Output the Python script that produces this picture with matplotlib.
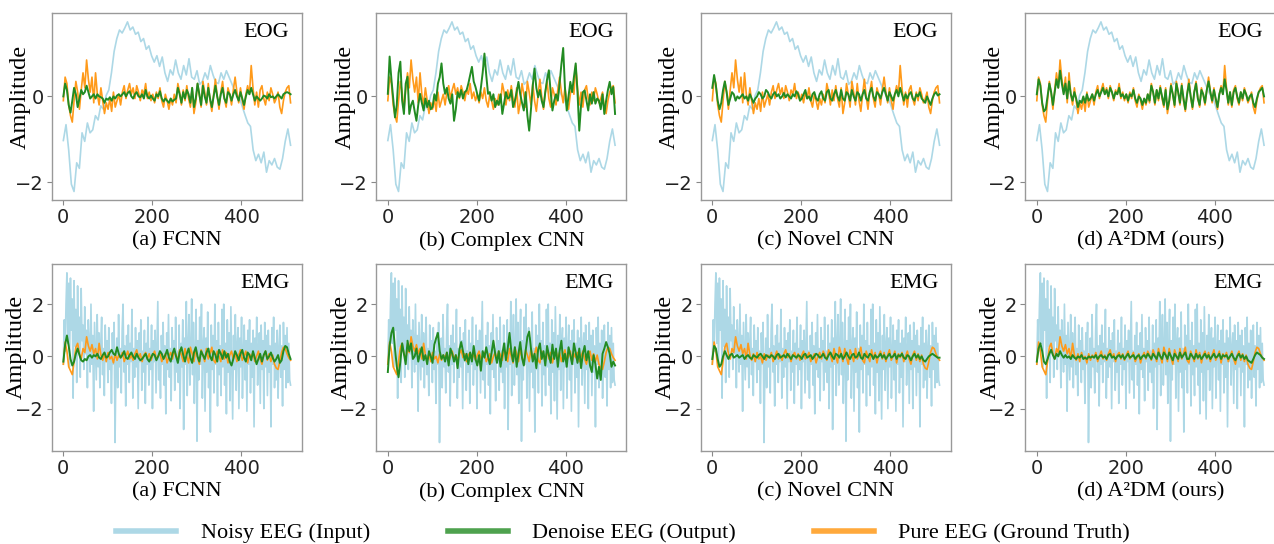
import numpy as np
import matplotlib
matplotlib.use('Agg')
import matplotlib.pyplot as plt
from matplotlib.lines import Line2D

# panel names
titles = ['(a) FCNN', '(b) Complex CNN', '(c) Novel CNN', '(d) A\u00b2DM (ours)']
row_tags = ['EOG', 'EMG']

# noisy EEG, EOG artefact (input), 86 samples over 0..511
eog_noisy = [-1.03, -0.66, -1.25, -2.05, -2.22, -1.55, -1.68, -0.85, -1.05, -0.62, -0.85, -0.78, -0.45, -0.55, -0.22, -0.30,
             0.02, 0.15, 0.55, 1.05, 1.35, 1.55, 1.48, 1.60, 1.74, 1.55, 1.62, 1.45, 1.50, 1.28, 1.35, 1.10,
             1.18, 0.95, 0.80, 0.95, 0.70, 0.92, 0.55, 0.35, 0.62, 0.50, 0.85, 0.55, 0.40, 0.72, 0.50, 0.88,
             0.45, 0.40, 0.60, 0.28, 0.35, 0.55, 0.40, 0.72, 0.50, 0.33, 0.30, 0.55, 0.40, 0.60, 0.45, 0.30,
             0.15, 0.02, -0.05, -0.25, -0.44, -0.62, -0.70, -1.25, -1.50, -1.35, -1.55, -1.30, -1.77, -1.50, -1.60, -1.45,
             -1.65, -1.70, -1.45, -1.05, -0.76, -1.14]

# pure EEG (ground truth), EOG row, 128 samples
eog_pure = [-0.10, 0.45, 0.30, -0.20, -0.45, -0.60, -0.10, 0.35, 0.10, -0.30, 0.15, 0.55, 0.20, 0.85, 0.40, 0.10,
            0.45, -0.15, 0.55, 0.05, -0.20, 0.20, -0.10, -0.40, -0.15, -0.30, -0.05, -0.35, 0.10, -0.25, -0.10, 0.05,
            -0.20, 0.10, 0.25, -0.05, 0.15, 0.30, 0.05, 0.20, -0.05, 0.25, 0.10, -0.10, 0.15, 0.05, 0.30, -0.05,
            0.10, -0.10, 0.05, -0.15, 0.10, -0.05, 0.20, -0.10, -0.25, 0.05, -0.10, -0.30, -0.05, -0.20, 0.05, -0.15,
            0.30, 0.10, -0.20, 0.15, -0.10, 0.25, -0.05, -0.25, 0.20, -0.40, -0.15, 0.30, 0.05, -0.25, 0.35, 0.10,
            -0.20, 0.30, -0.10, -0.35, 0.05, 0.40, 0.00, -0.30, 0.10, 0.35, -0.05, -0.25, 0.20, 0.05, -0.20, 0.15,
            0.45, 0.10, -0.15, 0.20, -0.10, -0.30, 0.05, 0.25, 0.05, 0.72, 0.20, -0.20, 0.10, -0.25, 0.15, 0.25,
            -0.05, -0.20, 0.10, -0.10, 0.20, 0.05, -0.15, -0.05, 0.10, -0.25, -0.40, -0.10, 0.10, 0.20, 0.25, -0.15]

# denoised outputs, EOG row
eog_fcnn = [0.00, 0.30, 0.15, -0.20, -0.38, -0.10, 0.20, 0.05, -0.25, -0.05, 0.15, 0.05, 0.10, 0.25, 0.10, -0.05,
            0.00, 0.05, -0.05, 0.05, 0.00, -0.02, -0.05, -0.15, -0.05, -0.08, -0.02, -0.10, 0.00, -0.05, 0.02, 0.05,
            0.00, 0.05, 0.10, 0.00, 0.08, 0.12, 0.00, -0.05, 0.05, 0.10, 0.00, -0.02, 0.05, -0.05, 0.15, 0.00,
            -0.05, 0.02, -0.05, -0.10, 0.05, 0.00, 0.12, -0.05, -0.12, -0.05, -0.10, -0.15, -0.05, -0.12, -0.08, -0.05,
            0.20, 0.05, -0.15, 0.10, -0.05, 0.15, 0.05, -0.15, 0.20, -0.25, -0.05, 0.30, 0.05, -0.20, 0.25, 0.00,
            -0.15, 0.20, -0.05, -0.25, 0.00, 0.25, 0.00, -0.20, 0.05, 0.20, -0.05, -0.15, 0.10, 0.05, -0.10, 0.05,
            0.15, 0.00, -0.10, 0.10, -0.05, -0.20, 0.00, 0.15, 0.05, 0.20, 0.05, -0.10, 0.00, -0.05, -0.10, -0.05,
            0.02, 0.00, -0.05, 0.05, -0.02, 0.00, -0.05, 0.00, 0.05, 0.00, -0.05, 0.05, 0.08, 0.10, 0.08, 0.05]
eog_complex = [0.06, 0.93, 0.40, -0.05, -0.49, -0.20, 0.55, 0.81, -0.10, -0.41, 0.30, 0.46, -0.41, -0.20, -0.10, -0.35,
               -0.57, -0.20, 0.06, -0.15, -0.33, -0.05, -0.25, -0.10, -0.30, -0.25, 0.05, -0.10, 0.30, 0.45, 0.77, 0.30,
               0.06, 0.20, -0.05, -0.17, 0.05, -0.57, -0.30, 0.10, -0.02, 0.15, -0.05, 0.10, 0.14, 0.30, 0.50, 0.69,
               0.35, 0.22, 0.05, -0.10, 0.20, 0.55, 1.00, 0.50, 0.06, 0.10, -0.10, 0.05, -0.25, -0.10, -0.20, 0.05,
               -0.41, -0.15, 0.10, -0.05, -0.02, 0.15, -0.25, -0.10, 0.10, 0.34, 0.05, -0.15, -0.33, 0.10, -0.45, -0.80,
               -0.30, 0.25, 0.65, 0.20, -0.02, 0.15, -0.10, -0.25, 0.10, 0.40, 0.61, 0.10, -0.33, -0.10, 0.05, -0.10,
               0.30, 0.75, 1.13, 0.20, -0.33, 0.00, 0.34, 0.10, 0.45, 0.77, 0.10, -0.80, -0.20, 0.10, 0.14, -0.10,
               -0.33, 0.05, -0.17, 0.10, -0.17, -0.05, -0.10, -0.30, 0.05, -0.41, -0.10, 0.15, 0.34, 0.05, 0.22, -0.41]
eog_novel = [0.20, 0.50, 0.25, -0.10, -0.30, -0.15, 0.15, 0.35, 0.10, -0.20, -0.05, 0.10, 0.05, -0.10, 0.00, -0.05,
             0.00, 0.05, -0.05, 0.00, -0.10, 0.05, -0.05, -0.15, -0.05, 0.00, 0.10, 0.05, -0.05, 0.00, 0.15, 0.10,
             0.00, -0.05, 0.05, 0.10, 0.00, 0.05, -0.05, 0.00, 0.08, -0.02, 0.05, 0.00, -0.05, 0.05, 0.00, 0.12,
             0.05, -0.10, -0.05, 0.05, 0.15, -0.05, 0.00, -0.10, 0.05, 0.10, -0.05, -0.10, 0.05, 0.12, -0.05, -0.10,
             0.10, 0.15, -0.05, -0.10, 0.05, 0.15, 0.00, -0.10, 0.15, -0.05, -0.10, 0.10, 0.05, -0.10, 0.15, 0.00,
             -0.10, 0.10, 0.05, -0.10, 0.05, 0.15, -0.05, -0.10, 0.10, 0.20, 0.00, -0.10, 0.10, 0.05, -0.05, 0.10,
             0.20, 0.05, -0.10, 0.10, 0.00, -0.10, 0.05, 0.15, 0.00, 0.20, 0.05, -0.10, 0.05, -0.05, 0.05, 0.10,
             -0.05, -0.10, 0.05, 0.00, 0.10, -0.05, -0.10, -0.15, 0.00, -0.10, -0.20, -0.05, 0.05, 0.10, 0.02, 0.05]
eog_a2dm = [0.05, 0.40, 0.25, -0.15, -0.35, -0.30, 0.00, 0.30, 0.10, -0.20, 0.10, 0.40, 0.20, 0.60, 0.30, 0.05,
            0.30, -0.05, 0.35, 0.05, -0.10, 0.10, -0.05, -0.25, -0.10, -0.15, 0.00, -0.15, 0.05, -0.10, -0.05, 0.05,
            -0.10, 0.05, 0.15, 0.00, 0.10, 0.20, 0.05, 0.15, 0.00, 0.20, 0.10, -0.05, 0.10, 0.05, 0.20, 0.00,
            0.05, -0.05, 0.05, -0.10, 0.05, 0.00, 0.15, -0.05, -0.15, 0.00, -0.05, -0.20, -0.05, -0.15, 0.05, -0.10,
            0.25, 0.10, -0.15, 0.15, -0.05, 0.20, 0.00, -0.20, 0.15, -0.30, -0.10, 0.25, 0.05, -0.20, 0.30, 0.10,
            -0.15, 0.25, -0.05, -0.30, 0.05, 0.30, 0.00, -0.25, 0.10, 0.30, -0.05, -0.20, 0.15, 0.05, -0.15, 0.15,
            0.35, 0.10, -0.10, 0.15, -0.05, -0.25, 0.05, 0.20, 0.05, 0.40, 0.15, -0.15, 0.10, -0.20, 0.10, 0.20,
            0.00, -0.15, 0.10, -0.05, 0.15, 0.05, -0.10, 0.00, 0.05, -0.15, -0.25, -0.05, 0.10, 0.15, 0.20, 0.00]

# noisy EEG, EMG artefact (input), 256 samples
emg_noisy = [-0.30, 1.40, 0.20, 2.00, 3.20, 0.50, 2.80, -0.40, 3.00, 1.00, 2.20, -1.60, 2.90, 0.40, 1.80, -1.00,
             2.70, 0.20, 1.50, -0.80, 2.60, 0.60, 1.20, -0.50, 1.90, 0.10, 1.00, -1.20, 1.40, 0.50, -0.60, 2.00,
             -0.30, 0.80, -2.10, 1.30, 0.20, -0.90, 1.60, -0.40, 0.90, -1.20, 0.50, 1.50, -0.70, 0.30, -1.50, 1.20,
             -0.20, 0.60, -1.00, 1.10, -0.50, 0.20, -1.80, 0.90, -0.30, 1.30, -3.30, -0.50, 0.70, -1.20, 1.60, -0.40,
             0.30, -1.40, 1.00, 2.00, -0.60, 0.40, -1.90, 0.80, -0.30, 1.20, -1.00, 0.50, -0.20, 1.80, -1.60, 0.30,
             -0.80, 1.10, -0.40, 0.60, -2.00, 0.90, -0.20, 1.40, -1.30, 0.20, -0.60, 1.00, -1.80, 0.50, -0.30, 1.50,
             -1.10, 0.30, -0.50, 1.20, -2.00, 0.60, -0.20, 1.00, -1.40, 0.40, 2.10, -0.90, 0.20, -1.60, 0.80, -0.30,
             1.30, -1.10, 0.40, -2.20, 0.90, -0.50, 1.60, -0.80, 0.30, -1.70, 1.10, -0.20, 0.60, -1.30, 1.50, -0.60,
             0.20, -1.00, 1.20, -2.00, 0.50, -0.40, 1.40, -2.80, 0.70, -0.30, 2.10, -1.50, 0.40, 1.60, -1.10, 0.30,
             2.20, -0.70, 1.30, -1.80, 0.20, 1.80, -3.25, 0.60, -0.90, 1.50, -0.30, 2.00, -1.60, 0.40, 1.10, -2.10,
             0.70, -0.60, 1.70, -1.20, 0.30, -2.90, 1.20, -0.50, 0.80, -1.40, 2.00, -0.30, 0.60, -1.90, 1.30, -0.70,
             0.40, -1.50, 1.80, -0.40, 2.00, -1.10, 0.50, -2.20, 1.40, -0.60, 0.90, -1.70, 1.90, -0.20, -2.40, 0.80,
             -0.50, 1.60, -1.30, 0.40, 1.10, -2.00, 0.70, -0.40, 1.50, -1.60, 0.20, 1.20, -0.90, 0.60, -2.10, 1.00,
             -0.30, 1.40, -1.40, 0.50, -0.80, 1.00, -2.70, 0.70, -0.20, 1.50, -1.10, 0.30, 0.90, -1.80, 1.20, -0.50,
             0.60, -2.00, 1.30, -0.40, 0.80, -1.50, 1.00, -0.60, 0.40, -2.70, 1.10, -0.30, 1.50, -1.20, 0.50, -0.90,
             1.00, -1.60, 0.30, 1.20, -0.80, 0.40, -1.90, 1.30, -0.50, 0.80, -1.20, 1.10, -1.00, 0.50, -0.90, -1.10]

emg_pure = [-0.30, 0.55, 0.20, -0.40, -0.55, -0.70, -0.20, 0.35, 0.50, 0.10, -0.10, 0.30, 0.15, 0.75, 0.40, 0.20,
            0.45, 0.10, 0.30, -0.10, 0.50, 0.05, -0.15, 0.10, -0.20, 0.15, -0.10, 0.00, -0.25, 0.10, -0.15, 0.05,
            -0.05, 0.15, -0.20, 0.00, 0.20, -0.10, 0.05, -0.15, 0.10, 0.25, -0.05, 0.10, -0.20, 0.05, 0.15, -0.10,
            0.10, -0.15, 0.05, 0.20, -0.10, 0.00, 0.15, -0.20, -0.05, 0.10, -0.25, 0.00, 0.15, -0.10, 0.20, 0.05,
            -0.15, 0.25, 0.05, -0.20, 0.30, 0.00, -0.25, 0.35, 0.10, -0.20, 0.30, -0.05, -0.30, 0.25, 0.05, -0.20,
            0.30, -0.10, 0.10, 0.35, -0.15, -0.25, 0.20, 0.00, -0.20, 0.25, -0.10, 0.15, -0.25, 0.05, 0.20, -0.10,
            0.15, -0.20, 0.05, 0.25, -0.15, 0.00, 0.20, -0.25, 0.10, -0.05, 0.15, -0.20, 0.00, 0.20, -0.10, -0.30,
            0.05, 0.20, -0.15, 0.10, -0.20, 0.05, -0.30, -0.45, -0.50, -0.20, 0.15, 0.35, 0.30, 0.10, -0.05, -0.15]

emg_fcnn = [-0.20, 0.45, 0.80, 0.40, -0.10, -0.35, -0.20, 0.10, 0.30, 0.05, -0.15, -0.20, -0.10, -0.15, 0.00, 0.05,
            -0.05, 0.05, 0.00, 0.10, -0.05, -0.10, 0.05, 0.15, -0.05, 0.00, 0.15, 0.25, 0.10, 0.05, 0.35, 0.10,
            -0.05, 0.05, 0.20, -0.05, -0.10, 0.05, 0.15, 0.00, -0.10, 0.10, -0.05, -0.15, -0.10, 0.00, 0.10, -0.10,
            -0.20, -0.05, 0.10, 0.05, -0.15, 0.00, 0.20, 0.10, -0.10, 0.05, 0.25, -0.05, -0.20, 0.10, 0.30, 0.00,
            -0.25, 0.15, 0.35, 0.05, -0.20, 0.10, 0.30, -0.05, -0.25, 0.15, 0.35, 0.00, -0.20, 0.20, 0.05, -0.10,
            0.15, 0.30, 0.00, -0.15, 0.20, 0.05, -0.20, 0.25, 0.10, -0.10, 0.20, -0.05, 0.10, -0.20, -0.35, -0.10,
            0.20, 0.05, -0.15, 0.10, 0.25, -0.05, -0.20, 0.15, 0.05, -0.15, 0.20, -0.05, -0.30, -0.10, 0.10, -0.20,
            0.05, 0.20, -0.10, 0.00, 0.15, -0.05, -0.20, -0.10, 0.05, -0.25, -0.15, 0.20, 0.40, 0.35, 0.10, -0.10]
emg_complex = [-0.60, 0.40, 0.90, 1.10, 0.30, -0.40, -0.80, -0.20, 0.50, 0.10, -0.30, 0.60, 0.20, 0.50, -0.10, 0.00,
               0.30, -0.20, 0.10, 0.35, -0.15, 0.05, -0.30, 0.20, 0.00, -0.25, 0.45, 0.70, 0.90, 0.20, -0.10, 0.05,
               -0.20, 0.15, -0.35, 0.30, 0.10, -0.20, 0.05, -0.45, 0.25, 0.55, 0.20, -0.15, 0.10, -0.30, 0.15, -0.20,
               0.40, -0.10, -0.35, 0.05, -0.55, 0.20, -0.05, 0.35, 0.00, -0.30, 0.15, 0.60, 0.10, -0.25, 0.20, -0.40,
               0.10, 0.50, -0.15, 0.30, 0.90, 0.20, -0.20, 0.35, -0.40, 0.10, 0.55, -0.05, -0.35, 0.20, 0.75, 0.95,
               0.30, -0.20, 0.10, -0.45, 0.25, 0.50, -0.10, 0.20, -0.35, 0.40, 0.05, -0.25, 0.45, -0.10, 0.30, -0.40,
               0.20, 0.60, -0.20, 0.10, -0.40, 0.35, 0.05, -0.30, 0.50, 0.15, -0.25, 0.30, -0.45, 0.10, 0.40, -0.15,
               0.20, -0.35, -0.60, 0.05, -0.30, -0.85, -0.40, -0.90, 0.10, 0.30, 0.55, 0.35, 0.10, -0.40, -0.20, -0.35]
emg_novel = [-0.10, 0.40, 0.30, -0.10, -0.40, -0.30, 0.00, 0.20, 0.05, -0.10, 0.05, 0.10, -0.05, 0.00, 0.05, -0.05,
             0.00, 0.05, -0.10, 0.00, 0.05, -0.05, -0.10, 0.05, 0.00, -0.05, 0.05, 0.10, 0.00, -0.10, 0.05, 0.00,
             -0.05, 0.05, 0.00, -0.10, 0.05, 0.10, -0.05, 0.00, 0.05, -0.05, 0.10, 0.00, -0.10, 0.05, 0.00, -0.05,
             0.05, 0.00, -0.10, 0.05, 0.10, -0.05, 0.00, 0.05, -0.10, 0.00, 0.10, 0.05, -0.05, 0.00, 0.10, -0.05,
             -0.10, 0.05, 0.15, 0.00, -0.10, 0.10, 0.05, -0.05, 0.10, -0.10, 0.00, 0.15, 0.00, -0.10, 0.05, 0.10,
             -0.05, 0.00, 0.15, -0.05, -0.10, 0.10, 0.00, -0.05, 0.10, 0.05, -0.10, 0.05, -0.05, 0.00, 0.10, -0.05,
             0.05, -0.10, 0.00, 0.10, -0.05, 0.00, 0.10, -0.10, 0.05, 0.00, 0.10, -0.05, -0.10, 0.05, 0.00, -0.15,
             0.00, 0.10, -0.05, 0.05, -0.10, 0.00, -0.15, -0.20, -0.10, 0.00, 0.05, 0.10, 0.05, 0.00, -0.05, -0.05]
emg_a2dm = [-0.20, 0.30, 0.50, 0.20, -0.20, -0.30, -0.10, 0.10, 0.25, 0.05, -0.10, 0.10, 0.00, 0.20, 0.05, -0.05,
            0.05, -0.05, 0.00, -0.10, 0.05, -0.05, -0.10, 0.00, -0.05, 0.05, -0.10, -0.05, -0.10, 0.00, -0.05, 0.00,
            -0.05, 0.05, -0.10, 0.00, 0.05, -0.05, 0.00, -0.10, 0.05, 0.10, -0.05, 0.00, -0.10, 0.00, 0.05, -0.05,
            0.05, -0.10, 0.00, 0.10, -0.05, 0.00, 0.05, -0.10, 0.00, 0.05, -0.10, 0.00, 0.05, -0.05, 0.10, 0.00,
            -0.10, 0.10, 0.00, -0.10, 0.15, 0.00, -0.10, 0.15, 0.05, -0.10, 0.15, 0.00, -0.15, 0.10, 0.00, -0.10,
            0.15, -0.05, 0.05, 0.15, -0.10, -0.10, 0.10, 0.00, -0.10, 0.10, -0.05, 0.05, -0.10, 0.00, 0.10, -0.05,
            0.05, -0.10, 0.00, 0.10, -0.05, 0.00, 0.10, -0.10, 0.05, 0.00, 0.05, -0.10, 0.00, 0.10, -0.05, -0.15,
            0.00, 0.10, -0.05, 0.05, -0.10, 0.00, -0.15, -0.20, -0.25, -0.10, 0.05, 0.15, 0.10, 0.05, -0.05, -0.10]

rows = [
    (eog_noisy, eog_pure, [eog_fcnn, eog_complex, eog_novel, eog_a2dm], [-2, 0]),
    (emg_noisy, emg_pure, [emg_fcnn, emg_complex, emg_novel, emg_a2dm], [-2, 0, 2]),
]

c_noisy = '#add8e6'
c_out = '#228b22'
c_pure = '#ff9a1a'
serif = 'Liberation Serif'

fig = plt.figure(figsize=(12.74, 5.44), dpi=100)

lefts = [0.0408, 0.2955, 0.5502, 0.8049]
bottoms = [0.6324, 0.171]
w, h = 0.1962, 0.343
ylab_pos = [(-0.083, 0.55), (-0.10, 0.56)]


def t(vals):
    return np.linspace(0, 511, len(vals))


for r, (noisy, pure, outs, yt) in enumerate(rows):
    for c in range(4):
        ax = fig.add_axes([lefts[c], bottoms[r], w, h])
        ax.plot(t(noisy), noisy, color=c_noisy, lw=1.2)
        ax.plot(t(pure), pure, color=c_pure, lw=1.2)
        ax.plot(t(outs[c]), outs[c], color=c_out, lw=1.4)
        ax.set_yticks(yt)
        ax.set_xticks([0, 200, 400])
        ax.tick_params(labelsize=14, length=3.5, color='#888888', labelcolor='#222222', pad=2.5)
        for s in ax.spines.values():
            s.set_color('#999999')
            s.set_linewidth(1)
        ax.set_ylabel('Amplitude', fontsize=17.5, family=serif)
        ax.yaxis.set_label_coords(*ylab_pos[r])
        ax.set_xlabel(titles[c], fontsize=16, family=serif, labelpad=3)
        ax.text(0.95, 0.95, row_tags[r], transform=ax.transAxes, ha='right', va='top',
                fontsize=16, family=serif)

handles = [Line2D([], [], color=c_noisy, lw=4),
           Line2D([], [], color=c_out, lw=4, alpha=0.8),
           Line2D([], [], color=c_pure, lw=4, alpha=0.85)]
labels = ['Noisy EEG (Input)', 'Denoise EEG (Output)', 'Pure EEG (Ground Truth)']
fig.legend(handles, labels, loc='center', bbox_to_anchor=(0.489, 0.02), ncol=3, frameon=False,
           prop={'family': serif, 'size': 16}, handlelength=2.7, handletextpad=1.1, columnspacing=3.5)

fig.savefig('out.png', dpi=100)
